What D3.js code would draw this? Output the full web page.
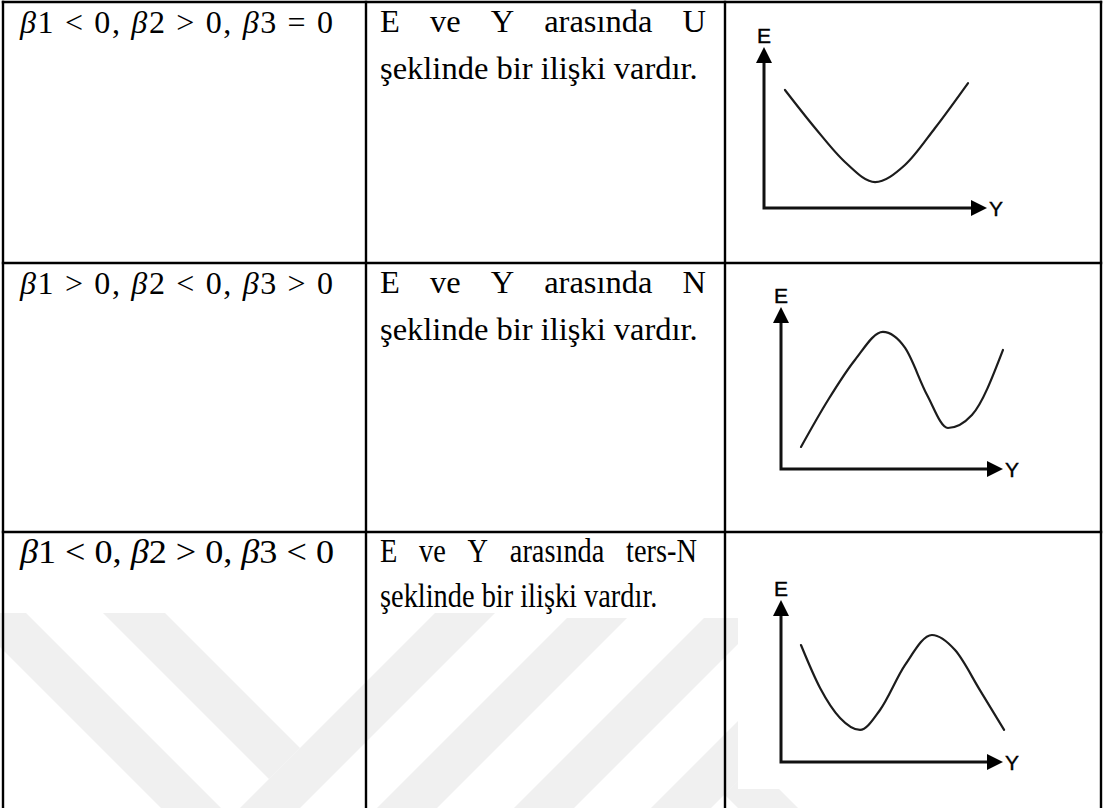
<!DOCTYPE html>
<html><head><meta charset="utf-8">
<script src="https://cdn.jsdelivr.net/npm/d3@7"></script>
<style>body{margin:0;background:#fff}svg{display:block}</style>
</head><body>
<svg id="c" width="1103" height="808"></svg>
<script>
// ---------- data ----------
const conditions = ["β1 < 0, β2 > 0, β3 = 0", "β1 > 0, β2 < 0, β3 > 0", "β1 < 0, β2 > 0, β3 < 0"];
const relationShapes = ["U", "N", "ters-N"];
const descLead = ["E", "ve", "Y", "arasında"];
const descTail = "şeklinde bir ilişki vardır.";
const yAxisLabel = "E";
const xAxisLabel = "Y";
// curves in panel units (0..100 on both axes)
const curveU = [[9.4,73.3],[22.9,49.7],[36.3,28.6],[49.8,16.1],[63.2,26.7],[76.7,49.7],[91.5,77.6]];
const curveN = [[9.0,13.6],[21.2,42.6],[33.3,67.3],[45.9,84.6],[55.9,74.7],[65.8,45.7],[75.2,25.3],[86.0,33.3],[100,73.5]];
const curveInvN = [[9.0,72.2],[17.6,45.7],[26.6,27.2],[35.6,19.8],[44.6,32.1],[55.9,59.9],[68.0,78.4],[78.4,69.1],[89.6,44.4],[100.5,19.8]];
const curves = [curveU, curveN, curveInvN];

// ---------- layout ----------
const svg = d3.select("#c");
svg.append("rect").attr("width",1103).attr("height",808).attr("fill","#fff");
const colX = [3, 366, 725, 1101];
const rowY = [2, 263, 532, 820];

// watermark (faint background logo)
const wm = svg.append("g").attr("fill","#f0f0f0");
const wmPolys = [
  [[-34,613],[26,613],[221,808],[161,808]],
  [[103,613],[165,613],[300,748],[269,779]],
  [[1048-613,613],[1108-613,613],[300,808],[240,808]],
  [[1185-618,618],[1245-618,618],[1245-808,808],[1185-808,808]],
  [[1322-618,618],[1382-618,618],[1382-808,808],[1322-808,808]],
  [[1459-618,618],[1519-618,618],[1519-808,808],[1459-808,808]],
  [[754,764],[800,810],[740,810],[724.5,794.5]]
];
wm.selectAll("polygon").data(wmPolys).join("polygon")
  .attr("points", d => d.map(p => p.join(",")).join(" "));
// white picture background of the third figure
svg.append("rect").attr("x",738).attr("y",545).attr("width",330).attr("height",244).attr("fill","#fff");

// table grid
const grid = svg.append("g").attr("stroke","#000").attr("stroke-width",2.4);
colX.forEach(x => grid.append("line").attr("x1",x).attr("x2",x).attr("y1",rowY[0]-1.2).attr("y2",808));
rowY.slice(0,3).forEach(y => grid.append("line").attr("x1",colX[0]-1.2).attr("x2",colX[3]+1.2).attr("y1",y).attr("y2",y));

// ---------- text ----------
const serif = "'Liberation Serif','Times New Roman',serif";
function formula(g, str, x, y, size, len, condensed) {
  const t = g.append("text").attr("x",x).attr("y",y).attr("font-family",serif)
    .attr("font-size",size).attr("fill","#000")
    .attr("textLength",len).attr("lengthAdjust", condensed ? "spacingAndGlyphs" : "spacing");
  str.split(/(β)/).filter(s=>s.length).forEach(s => {
    t.append("tspan").text(s).attr("font-style", s==="β" ? "italic" : null);
  });
}
function justify(g, words, x0, x1, y, size) {
  const nodes = words.map(w => g.append("text").text(w).attr("y",y)
     .attr("font-family",serif).attr("font-size",size).attr("fill","#000"));
  const widths = nodes.map(n => n.node().getComputedTextLength());
  const gap = (x1 - x0 - d3.sum(widths)) / (words.length - 1);
  let x = x0;
  nodes.forEach((n,i) => { n.attr("x", x); x += widths[i] + gap; });
}

const textG = svg.append("g");
conditions.forEach((c,i) => {
  const top = rowY[i];
  const condensed = i === 2;
  formula(textG, c, condensed ? 20 : 20, top + 31, condensed ? 33 : 32, condensed ? 314 : 313, condensed);
  const words = descLead.concat([relationShapes[i]]);
  if (!condensed) {
    justify(textG, words, 380, 706, top + 30, 32.5);
    textG.append("text").attr("x",380).attr("y",top + 77).attr("font-family",serif)
      .attr("font-size",32.5).attr("fill","#000").text(descTail);
  } else {
    const sx = 0.86;
    const g = textG.append("g").attr("transform",`translate(380,0) scale(${sx},1)`);
    justify(g, words, 0, (697-380)/sx, top + 30, 33);
    g.append("text").attr("x",0).attr("y",top + 75).attr("font-family",serif)
      .attr("font-size",33).attr("fill","#000").text(descTail);
  }
});

// ---------- mini charts ----------
const panelLayout = [
  {x0:764, x1:987, y0:208, y1:47},
  {x0:781, x1:1003, y0:469, y1:307},
  {x0:781, x1:1003, y0:762, y1:600}
];
const sans = "'Liberation Sans',Arial,sans-serif";
panelLayout.forEach((p,i) => {
  const x = d3.scaleLinear().domain([0,100]).range([p.x0,p.x1]);
  const y = d3.scaleLinear().domain([0,100]).range([p.y0,p.y1]);
  const g = svg.append("g");
  const ah = 15, aw = 8;
  g.append("path").attr("fill","none").attr("stroke","#111").attr("stroke-width",3)
    .attr("d", `M${x(0)},${y(100)+ah} L${x(0)},${y(0)} L${x(100)-ah},${y(0)}`);
  g.append("path").attr("fill","#000")
    .attr("d", `M${x(0)},${y(100)} L${x(0)-aw},${y(100)+ah+1} L${x(0)+aw},${y(100)+ah+1}Z`);
  g.append("path").attr("fill","#000")
    .attr("d", `M${x(100)},${y(0)} L${x(100)-ah-1},${y(0)-aw} L${x(100)-ah-1},${y(0)+aw}Z`);
  g.append("path").datum(curves[i]).attr("fill","none").attr("stroke","#1c1c1c").attr("stroke-width",2.2)
    .attr("stroke-linecap","round")
    .attr("d", d3.line().x(d=>x(d[0])).y(d=>y(d[1])).curve(d3.curveMonotoneX));
  g.append("text").attr("x",x(0)).attr("y",y(100)-4).attr("text-anchor","middle")
    .attr("font-family",sans).attr("font-size",21).attr("fill","#000")
    .attr("stroke","#000").attr("stroke-width",0.4).text(yAxisLabel);
  g.append("text").attr("x",x(100)+2).attr("y",y(0)+8).attr("text-anchor","start")
    .attr("font-family",sans).attr("font-size",21).attr("fill","#000")
    .attr("stroke","#000").attr("stroke-width",0.4).text(xAxisLabel);
});
</script>
</body></html>
